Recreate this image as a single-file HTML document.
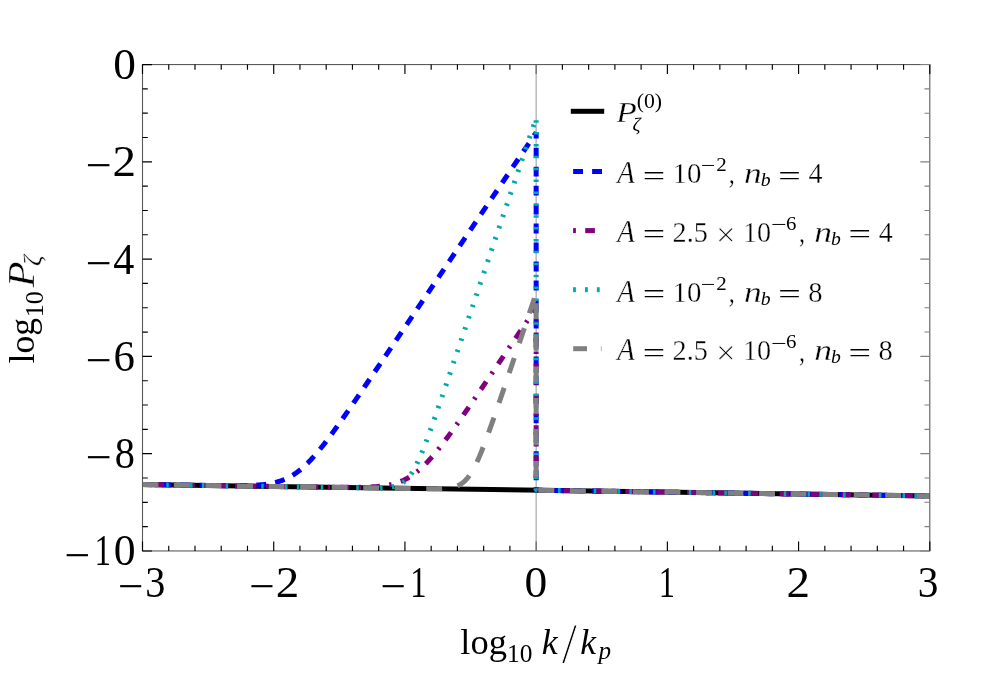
<!DOCTYPE html>
<html><head><meta charset="utf-8"><title>plot</title>
<style>html,body{margin:0;padding:0;background:#fff;}svg{display:block;}text{font-family:"Liberation Serif",serif;fill:#000;}.it{font-style:italic;}#wrap{will-change:transform;width:997px;height:674px;}</style></head><body><div id="wrap">
<svg width="997" height="674" viewBox="0 0 997 674">
<rect x="0" y="0" width="997" height="674" fill="#ffffff"/>
<defs><clipPath id="clip"><rect x="142.50" y="64.55" width="787.30" height="486.40"/></clipPath></defs>
<line x1="536.15" y1="64.55" x2="536.15" y2="550.95" stroke="#a4a4a4" stroke-width="1.15"/>
<g clip-path="url(#clip)" fill="none" stroke-width="5" stroke-linejoin="bevel">
<path d="M142.500 484.556 L933.800 495.996" stroke="#000000"/>
<path d="M142.500 484.556 L190.722 485.242 L207.780 485.463 L218.278 485.574 L225.823 485.628 L231.727 485.644 L236.648 485.631 L240.912 485.593 L244.521 485.534 L247.801 485.453 L250.754 485.352 L253.378 485.236 L255.674 485.110 L257.971 484.958 L259.939 484.803 L261.907 484.622 L263.875 484.413 L265.516 484.214 L267.156 483.991 L268.796 483.740 L270.436 483.460 L272.076 483.147 L273.389 482.872 L274.701 482.573 L276.013 482.248 L277.325 481.896 L278.637 481.515 L279.949 481.104 L281.262 480.660 L282.246 480.306 L283.230 479.932 L284.214 479.537 L285.198 479.122 L286.182 478.685 L287.166 478.226 L288.151 477.745 L289.135 477.240 L290.119 476.711 L291.103 476.159 L292.087 475.581 L293.071 474.979 L294.055 474.352 L295.039 473.700 L296.024 473.022 L297.008 472.318 L297.992 471.589 L298.976 470.834 L299.960 470.053 L300.944 469.247 L301.928 468.415 L302.912 467.559 L303.897 466.678 L305.209 465.466 L306.521 464.211 L307.833 462.915 L309.145 461.580 L310.457 460.206 L311.769 458.795 L313.082 457.349 L314.394 455.869 L316.034 453.974 L317.674 452.031 L319.314 450.045 L320.955 448.018 L322.595 445.953 L324.563 443.429 L326.531 440.860 L328.828 437.812 L331.124 434.715 L333.748 431.123 L336.701 427.027 L339.653 422.879 L343.262 417.755 L347.198 412.109 L351.791 405.465 L357.367 397.338 L364.256 387.237 L373.441 373.705 L387.219 353.336 L414.775 312.509 L536.150 132.546 L536.150 490.247 L933.800 495.996" stroke="#0000ff" stroke-dasharray="9.9 9.08"/>
<path d="M142.500 484.556 L298.320 486.803 L319.971 487.096 L332.108 487.235 L340.637 487.307 L347.198 487.334 L352.447 487.329 L356.711 487.299 L360.648 487.243 L363.928 487.169 L366.880 487.077 L369.505 486.971 L372.129 486.835 L374.425 486.690 L376.722 486.515 L378.690 486.338 L380.658 486.132 L382.298 485.937 L383.939 485.717 L385.579 485.470 L387.219 485.194 L388.859 484.887 L390.171 484.616 L391.484 484.321 L392.796 484.001 L394.108 483.654 L395.420 483.278 L396.732 482.873 L398.044 482.435 L399.029 482.085 L400.013 481.716 L400.997 481.327 L401.981 480.917 L402.965 480.485 L403.949 480.031 L404.933 479.555 L405.917 479.056 L406.902 478.533 L407.886 477.987 L408.870 477.415 L409.854 476.819 L410.838 476.198 L411.822 475.552 L412.806 474.880 L413.790 474.183 L414.775 473.460 L415.759 472.711 L416.743 471.936 L417.727 471.136 L418.711 470.311 L419.695 469.461 L420.679 468.586 L421.991 467.381 L423.304 466.134 L424.616 464.846 L425.928 463.518 L427.240 462.151 L428.552 460.746 L429.865 459.306 L431.177 457.832 L432.817 455.944 L434.457 454.009 L436.097 452.028 L437.738 450.007 L439.378 447.947 L441.346 445.430 L443.314 442.866 L445.611 439.823 L447.907 436.731 L450.531 433.144 L453.155 429.509 L456.108 425.371 L459.388 420.723 L463.325 415.088 L467.917 408.455 L473.166 400.817 L479.727 391.208 L488.256 378.653 L500.721 360.235 L523.356 326.710 L536.150 307.746 L536.150 490.247 L933.800 495.996" stroke="#800080" stroke-dasharray="2.4 9.5 9.5 9.47"/>
<path d="M142.500 484.556 L351.463 487.573 L363.272 487.724 L369.505 487.779 L373.769 487.793 L377.050 487.777 L379.674 487.739 L381.970 487.679 L383.939 487.600 L385.579 487.509 L387.219 487.389 L388.531 487.267 L389.843 487.118 L390.828 486.986 L391.812 486.832 L392.796 486.656 L393.780 486.453 L394.764 486.220 L395.748 485.955 L396.404 485.757 L397.060 485.542 L397.716 485.307 L398.373 485.052 L399.029 484.776 L399.685 484.475 L400.341 484.150 L400.997 483.799 L401.653 483.419 L402.309 483.010 L402.965 482.570 L403.621 482.097 L404.277 481.589 L404.933 481.045 L405.589 480.464 L406.245 479.845 L406.902 479.185 L407.558 478.483 L408.214 477.740 L408.870 476.953 L409.526 476.122 L410.182 475.246 L410.838 474.326 L411.494 473.360 L412.150 472.349 L412.806 471.293 L413.462 470.192 L414.118 469.048 L414.775 467.860 L415.431 466.629 L416.087 465.357 L416.743 464.045 L417.399 462.694 L418.383 460.597 L419.367 458.421 L420.351 456.170 L421.335 453.851 L422.320 451.468 L423.304 449.027 L424.288 446.533 L425.600 443.134 L426.912 439.661 L428.552 435.230 L430.193 430.716 L432.161 425.211 L434.457 418.692 L437.081 411.148 L440.362 401.619 L444.626 389.127 L450.859 370.753 L462.341 336.768 L536.150 117.904 L536.150 490.247 L933.800 495.996" stroke="#00aaaa" stroke-dasharray="2.5 9.378"/>
<path d="M142.500 484.556 L409.854 488.417 L421.663 488.569 L427.896 488.627 L432.161 488.643 L435.441 488.631 L438.066 488.597 L440.362 488.542 L442.330 488.469 L443.970 488.384 L445.611 488.272 L446.923 488.157 L448.235 488.017 L449.219 487.892 L450.203 487.748 L451.187 487.581 L452.171 487.389 L453.155 487.169 L454.140 486.918 L454.796 486.730 L455.452 486.526 L456.108 486.304 L456.764 486.061 L457.420 485.798 L458.076 485.513 L458.732 485.203 L459.388 484.868 L460.044 484.506 L460.700 484.115 L461.357 483.694 L462.013 483.242 L462.669 482.755 L463.325 482.234 L463.981 481.676 L464.637 481.080 L465.293 480.445 L465.949 479.769 L466.605 479.052 L467.261 478.291 L467.917 477.488 L468.573 476.640 L469.230 475.747 L469.886 474.809 L470.542 473.826 L471.198 472.797 L471.854 471.724 L472.510 470.606 L473.166 469.445 L473.822 468.240 L474.478 466.994 L475.134 465.706 L475.790 464.379 L476.446 463.013 L477.431 460.895 L478.415 458.699 L479.399 456.431 L480.383 454.094 L481.367 451.696 L482.351 449.241 L483.663 445.888 L484.976 442.455 L486.288 438.952 L487.928 434.490 L489.568 429.951 L491.536 424.421 L493.833 417.880 L496.785 409.367 L500.393 398.855 L505.314 384.407 L512.859 362.127 L529.589 312.559 L536.150 293.106 L536.150 490.247 L933.800 495.996" stroke="#808080" stroke-dasharray="15.9 15.63"/>
</g>
<rect x="142.50" y="64.55" width="787.30" height="486.40" fill="none" stroke="#5a5a5a" stroke-width="1.1"/>
<path d="M536.15 550.95 v-9.50 M536.15 64.55 v9.50" stroke="#606060" stroke-width="1.15" fill="none"/>
<path d="M142.50 550.95 v-9.50 M142.50 64.55 v9.50 M168.74 550.95 v-5.30 M168.74 64.55 v5.30 M194.99 550.95 v-5.30 M194.99 64.55 v5.30 M221.23 550.95 v-5.30 M221.23 64.55 v5.30 M247.47 550.95 v-5.30 M247.47 64.55 v5.30 M273.72 550.95 v-9.50 M273.72 64.55 v9.50 M299.96 550.95 v-5.30 M299.96 64.55 v5.30 M326.20 550.95 v-5.30 M326.20 64.55 v5.30 M352.45 550.95 v-5.30 M352.45 64.55 v5.30 M378.69 550.95 v-5.30 M378.69 64.55 v5.30 M404.93 550.95 v-9.50 M404.93 64.55 v9.50 M431.18 550.95 v-5.30 M431.18 64.55 v5.30 M457.42 550.95 v-5.30 M457.42 64.55 v5.30 M483.66 550.95 v-5.30 M483.66 64.55 v5.30 M509.91 550.95 v-5.30 M509.91 64.55 v5.30 M562.39 550.95 v-5.30 M562.39 64.55 v5.30 M588.64 550.95 v-5.30 M588.64 64.55 v5.30 M614.88 550.95 v-5.30 M614.88 64.55 v5.30 M641.12 550.95 v-5.30 M641.12 64.55 v5.30 M667.37 550.95 v-9.50 M667.37 64.55 v9.50 M693.61 550.95 v-5.30 M693.61 64.55 v5.30 M719.85 550.95 v-5.30 M719.85 64.55 v5.30 M746.10 550.95 v-5.30 M746.10 64.55 v5.30 M772.34 550.95 v-5.30 M772.34 64.55 v5.30 M798.58 550.95 v-9.50 M798.58 64.55 v9.50 M824.83 550.95 v-5.30 M824.83 64.55 v5.30 M851.07 550.95 v-5.30 M851.07 64.55 v5.30 M877.31 550.95 v-5.30 M877.31 64.55 v5.30 M903.56 550.95 v-5.30 M903.56 64.55 v5.30 M929.80 550.95 v-9.50 M929.80 64.55 v9.50" stroke="#000000" stroke-width="1.15" fill="none"/>
<path d="M142.50 64.55 h9.50 M142.50 88.87 h5.30 M142.50 113.19 h5.30 M142.50 137.51 h5.30 M142.50 161.83 h9.50 M142.50 186.15 h5.30 M142.50 210.47 h5.30 M142.50 234.79 h5.30 M142.50 259.11 h9.50 M142.50 283.43 h5.30 M142.50 307.75 h5.30 M142.50 332.07 h5.30 M142.50 356.39 h9.50 M142.50 380.71 h5.30 M142.50 405.03 h5.30 M142.50 429.35 h5.30 M142.50 453.67 h9.50 M142.50 477.99 h5.30 M142.50 502.31 h5.30 M142.50 526.63 h5.30 M142.50 550.95 h9.50" stroke="#000000" stroke-width="1.15" fill="none"/>
<path d="M929.80 64.55 h-9.50 M929.80 88.87 h-5.30 M929.80 113.19 h-5.30 M929.80 137.51 h-5.30 M929.80 161.83 h-9.50 M929.80 186.15 h-5.30 M929.80 210.47 h-5.30 M929.80 234.79 h-5.30 M929.80 259.11 h-9.50 M929.80 283.43 h-5.30 M929.80 307.75 h-5.30 M929.80 332.07 h-5.30 M929.80 356.39 h-9.50 M929.80 380.71 h-5.30 M929.80 405.03 h-5.30 M929.80 429.35 h-5.30 M929.80 453.67 h-9.50 M929.80 477.99 h-5.30 M929.80 502.31 h-5.30 M929.80 526.63 h-5.30 M929.80 550.95 h-9.50" stroke="#808080" stroke-width="1.1" fill="none"/>
<g id="legend-lines">
<rect x="570.8" y="108.8" width="33.4" height="5" fill="#000"/>
<rect x="573.1" y="169" width="9.9" height="5" fill="#0000ff"/>
<rect x="592.1" y="169" width="9.9" height="5" fill="#0000ff"/>
<rect x="573.1" y="228.1" width="2.8" height="5" fill="#800080"/>
<rect x="585.2" y="228.1" width="9.7" height="5" fill="#800080"/>
<rect x="573.1" y="287.2" width="2.8" height="5" fill="#00aaaa"/>
<rect x="585.0" y="287.2" width="2.8" height="5" fill="#00aaaa"/>
<rect x="596.9" y="287.2" width="2.8" height="5" fill="#00aaaa"/>
<rect x="573.2" y="346.2" width="13.8" height="5" fill="#808080"/>
<rect x="600.8" y="346.2" width="1.0" height="5" fill="#b8b8b8"/>
</g>
<g id="legend-text">
<text transform="translate(616.18 122.10) scale(1.1303 1)" font-size="29.80" class="it" stroke="#fff" stroke-width="0.30">P</text>
<text transform="translate(632.46 130.70) scale(1.0168 1)" font-size="19.50" class="it">ζ</text>
<text transform="translate(636.65 108.00) scale(1.0587 1)" font-size="20.50">(0)</text>
<text transform="translate(617.37 182.70) scale(0.9170 1)" font-size="31.30" class="it" stroke="#fff" stroke-width="0.30">A</text>
<text transform="translate(642.72 184.60) scale(1.4725 1)" font-size="27.00">=</text>
<text transform="translate(672.46 182.70) scale(0.9879 1)" font-size="29.30" stroke="#fff" stroke-width="0.30">10</text>
<text transform="translate(700.82 172.20) scale(1.2894 1)" font-size="20.00">−</text>
<text transform="translate(716.18 171.10) scale(1.1450 1)" font-size="18.30">2</text>
<text transform="translate(728.68 183.30) scale(0.8058 1)" font-size="30.00" stroke="#fff" stroke-width="0.30">,</text>
<text transform="translate(744.04 182.70) scale(1.2360 1)" font-size="28.70" class="it" stroke="#fff" stroke-width="0.30">n</text>
<text transform="translate(760.77 185.90) scale(1.0024 1)" font-size="19.60" class="it">b</text>
<text transform="translate(778.21 184.60) scale(1.4804 1)" font-size="27.00">=</text>
<text transform="translate(808.55 182.70) scale(0.9644 1)" font-size="29.00" stroke="#fff" stroke-width="0.30">4</text>
<text transform="translate(617.37 241.50) scale(0.9170 1)" font-size="31.30" class="it" stroke="#fff" stroke-width="0.30">A</text>
<text transform="translate(642.72 243.40) scale(1.4725 1)" font-size="27.00">=</text>
<text transform="translate(672.56 241.50) scale(0.9721 1)" font-size="29.00" stroke="#fff" stroke-width="0.30">2.5</text>
<text transform="translate(715.96 245.80) scale(0.9990 1)" font-size="34.70" stroke="#fff" stroke-width="0.55">×</text>
<text transform="translate(743.03 241.50) scale(0.9606 1)" font-size="29.30" stroke="#fff" stroke-width="0.30">10</text>
<text transform="translate(771.12 231.00) scale(1.3861 1)" font-size="20.00">−</text>
<text transform="translate(786.10 229.90) scale(1.1383 1)" font-size="18.30">6</text>
<text transform="translate(798.88 242.10) scale(0.8058 1)" font-size="30.00" stroke="#fff" stroke-width="0.30">,</text>
<text transform="translate(814.24 241.50) scale(1.2360 1)" font-size="28.70" class="it" stroke="#fff" stroke-width="0.30">n</text>
<text transform="translate(830.97 244.70) scale(1.0024 1)" font-size="19.60" class="it">b</text>
<text transform="translate(848.41 243.40) scale(1.4804 1)" font-size="27.00">=</text>
<text transform="translate(878.75 241.50) scale(0.9644 1)" font-size="29.00" stroke="#fff" stroke-width="0.30">4</text>
<text transform="translate(617.37 301.50) scale(0.9170 1)" font-size="31.30" class="it" stroke="#fff" stroke-width="0.30">A</text>
<text transform="translate(642.72 303.40) scale(1.4725 1)" font-size="27.00">=</text>
<text transform="translate(672.46 301.50) scale(0.9879 1)" font-size="29.30" stroke="#fff" stroke-width="0.30">10</text>
<text transform="translate(700.82 291.00) scale(1.2894 1)" font-size="20.00">−</text>
<text transform="translate(716.18 289.90) scale(1.1450 1)" font-size="18.30">2</text>
<text transform="translate(728.68 302.10) scale(0.8058 1)" font-size="30.00" stroke="#fff" stroke-width="0.30">,</text>
<text transform="translate(744.04 301.50) scale(1.2360 1)" font-size="28.70" class="it" stroke="#fff" stroke-width="0.30">n</text>
<text transform="translate(760.77 304.70) scale(1.0024 1)" font-size="19.60" class="it">b</text>
<text transform="translate(778.21 303.40) scale(1.4804 1)" font-size="27.00">=</text>
<text transform="translate(808.31 301.50) scale(0.9845 1)" font-size="29.00" stroke="#fff" stroke-width="0.30">8</text>
<text transform="translate(617.37 360.00) scale(0.9170 1)" font-size="31.30" class="it" stroke="#fff" stroke-width="0.30">A</text>
<text transform="translate(642.72 361.90) scale(1.4725 1)" font-size="27.00">=</text>
<text transform="translate(672.56 360.00) scale(0.9721 1)" font-size="29.00" stroke="#fff" stroke-width="0.30">2.5</text>
<text transform="translate(715.96 364.30) scale(0.9990 1)" font-size="34.70" stroke="#fff" stroke-width="0.55">×</text>
<text transform="translate(743.03 360.00) scale(0.9606 1)" font-size="29.30" stroke="#fff" stroke-width="0.30">10</text>
<text transform="translate(771.12 349.50) scale(1.3861 1)" font-size="20.00">−</text>
<text transform="translate(786.10 348.40) scale(1.1383 1)" font-size="18.30">6</text>
<text transform="translate(798.88 360.60) scale(0.8058 1)" font-size="30.00" stroke="#fff" stroke-width="0.30">,</text>
<text transform="translate(814.24 360.00) scale(1.2360 1)" font-size="28.70" class="it" stroke="#fff" stroke-width="0.30">n</text>
<text transform="translate(830.97 363.20) scale(1.0024 1)" font-size="19.60" class="it">b</text>
<text transform="translate(848.41 361.90) scale(1.4804 1)" font-size="27.00">=</text>
<text transform="translate(878.51 360.00) scale(0.9845 1)" font-size="29.00" stroke="#fff" stroke-width="0.30">8</text>
</g>
<g id="xlabel">
<text transform="translate(460.37 653.90) scale(0.9997 1)" font-size="36.50">log</text>
<text transform="translate(507.07 661.90) scale(1.0367 1)" font-size="24.50">10</text>
<text transform="translate(541.87 653.90) scale(0.9819 1)" font-size="36.50" class="it">k</text>
<text transform="translate(561.70 663.00) scale(0.9834 1)" font-size="56.00" stroke="#fff" stroke-width="0.90">/</text>
<text transform="translate(580.27 653.90) scale(0.9755 1)" font-size="36.50" class="it">k</text>
<text transform="translate(598.48 659.10) scale(1.0110 1)" font-size="24.90" class="it">p</text>
</g>
<g id="ylabel" transform="translate(33.7 363) rotate(-90)">
<text transform="translate(-0.51 0.00) scale(0.9753 1)" font-size="36.50">log</text>
<text transform="translate(45.71 9.40) scale(1.0647 1)" font-size="24.50">10</text>
<text transform="translate(75.63 0.00) scale(1.1284 1)" font-size="37.50" class="it" stroke="#fff" stroke-width="0.35">P</text>
<text transform="translate(96.94 7.30) scale(1.0149 1)" font-size="26.20" class="it" stroke="#fff" stroke-width="0.30">ζ</text>
</g>
<g id="ticklabels">
<text transform="translate(113.27 79.05) scale(1.0414 1)" font-size="43.50">0</text>
<text transform="translate(85.85 180.43) scale(1.0501 1)" font-size="44.00">−</text>
<text transform="translate(112.43 176.33) scale(1.0838 1)" font-size="43.50">2</text>
<text transform="translate(85.85 277.71) scale(1.0501 1)" font-size="44.00">−</text>
<text transform="translate(113.28 273.61) scale(0.9693 1)" font-size="43.50">4</text>
<text transform="translate(85.85 374.99) scale(1.0501 1)" font-size="44.00">−</text>
<text transform="translate(113.56 370.89) scale(0.9847 1)" font-size="43.50">6</text>
<text transform="translate(85.85 472.27) scale(1.0501 1)" font-size="44.00">−</text>
<text transform="translate(114.76 468.17) scale(0.9275 1)" font-size="43.50">8</text>
<text transform="translate(64.52 569.55) scale(1.0403 1)" font-size="44.00">−</text>
<text transform="translate(94.38 565.45) scale(0.7640 1)" font-size="43.50">1</text>
<text transform="translate(113.74 565.45) scale(1.0034 1)" font-size="43.50">0</text>
<text transform="translate(118.04 600.50) scale(1.0305 1)" font-size="44.00">−</text>
<text transform="translate(145.18 596.80) scale(0.9238 1)" font-size="43.50">3</text>
<text transform="translate(249.26 600.50) scale(1.0305 1)" font-size="44.00">−</text>
<text transform="translate(275.74 596.80) scale(1.0838 1)" font-size="43.50">2</text>
<text transform="translate(380.47 600.50) scale(1.0305 1)" font-size="44.00">−</text>
<text transform="translate(410.16 596.80) scale(0.7509 1)" font-size="43.50">1</text>
<text transform="translate(524.42 596.80) scale(1.0468 1)" font-size="43.50">0</text>
<text transform="translate(658.82 596.80) scale(0.7444 1)" font-size="43.50">1</text>
<text transform="translate(786.41 596.80) scale(1.0838 1)" font-size="43.50">2</text>
<text transform="translate(917.82 596.80) scale(0.9516 1)" font-size="43.50">3</text>
</g>
</svg></div></body></html>
